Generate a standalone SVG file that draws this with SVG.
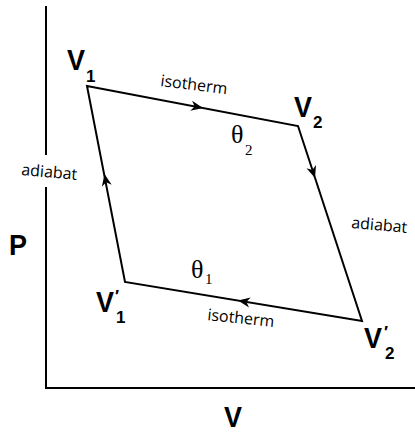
<svg xmlns="http://www.w3.org/2000/svg" width="415" height="432" viewBox="0 0 415 432">
<style>
.ax{stroke:#000;stroke-width:2;fill:none}
.cy{stroke:#000;stroke-width:2;fill:none;stroke-linejoin:miter}
.big{font-family:"Liberation Sans",Arial,sans-serif;font-weight:bold;font-size:30px;fill:#000}
.sub{font-family:"Liberation Sans",Arial,sans-serif;font-weight:bold;font-size:17px;fill:#000}
.lbl{font-family:"Open Sans","DejaVu Sans",sans-serif;font-size:16px;fill:#000}
.th{font-family:"Liberation Serif","Times New Roman",serif;font-size:26px;fill:#000}
.ths{font-family:"Liberation Serif","Times New Roman",serif;font-size:15px;fill:#000}
</style>
<defs>
<path id="ah" d="M0,0 L-12,-5 L-8.5,0 L-12,5 Z" fill="#000"/>
</defs>
<g id="axes">
<line class="ax" x1="46" y1="6" x2="46" y2="389"/>
<line class="ax" x1="45" y1="388" x2="415" y2="388"/>
</g>
<g id="connectors">
<path class="cy" d="M87,86 L298,126 L362,321 L125,282 Z"/>
<use href="#ah" transform="translate(203,108) rotate(10.7)"/>
<use href="#ah" transform="translate(315,178) rotate(71.8)"/>
<use href="#ah" transform="translate(238,300.6) rotate(189.3)"/>
<use href="#ah" transform="translate(104.5,174) rotate(259)"/>
</g>
<g id="label-isotherm-top"><text class="lbl" transform="translate(160,86) rotate(7)">isotherm</text></g>
<g id="label-adiabat-left">
<rect x="20" y="155" width="62" height="32" fill="#fff"/>
<text class="lbl" transform="translate(21,175) rotate(5)">adiabat</text>
</g>
<g id="label-adiabat-right"><text class="lbl" transform="translate(351,228) rotate(5)">adiabat</text></g>
<g id="label-isotherm-bottom"><text class="lbl" transform="translate(207,320) rotate(6)">isotherm</text></g>
<g id="node-V1"><text class="big" transform="translate(67,70) scale(0.9,1)">V</text><text class="sub" x="86" y="82">1</text></g>
<g id="node-V2"><text class="big" transform="translate(294,117) scale(0.9,1)">V</text><text class="sub" x="313" y="128">2</text></g>
<g id="node-V1p"><text class="big" transform="translate(96,312) scale(0.9,1)">V</text><text class="sub" x="115" y="302">′</text><text class="sub" x="116" y="323">1</text></g>
<g id="node-V2p"><text class="big" transform="translate(364,348) scale(0.9,1)">V</text><text class="sub" x="384" y="338">′</text><text class="sub" x="385" y="359">2</text></g>
<g id="theta2"><text class="th" x="231" y="143">θ</text><text class="ths" x="245" y="155">2</text></g>
<g id="theta1"><text class="th" x="191" y="278">θ</text><text class="ths" x="205" y="284">1</text></g>
<g id="axis-P"><text class="big" transform="translate(9,255) scale(0.9,1)">P</text></g>
<g id="axis-V"><text class="big" transform="translate(224,427) scale(0.9,1)">V</text></g>
</svg>
